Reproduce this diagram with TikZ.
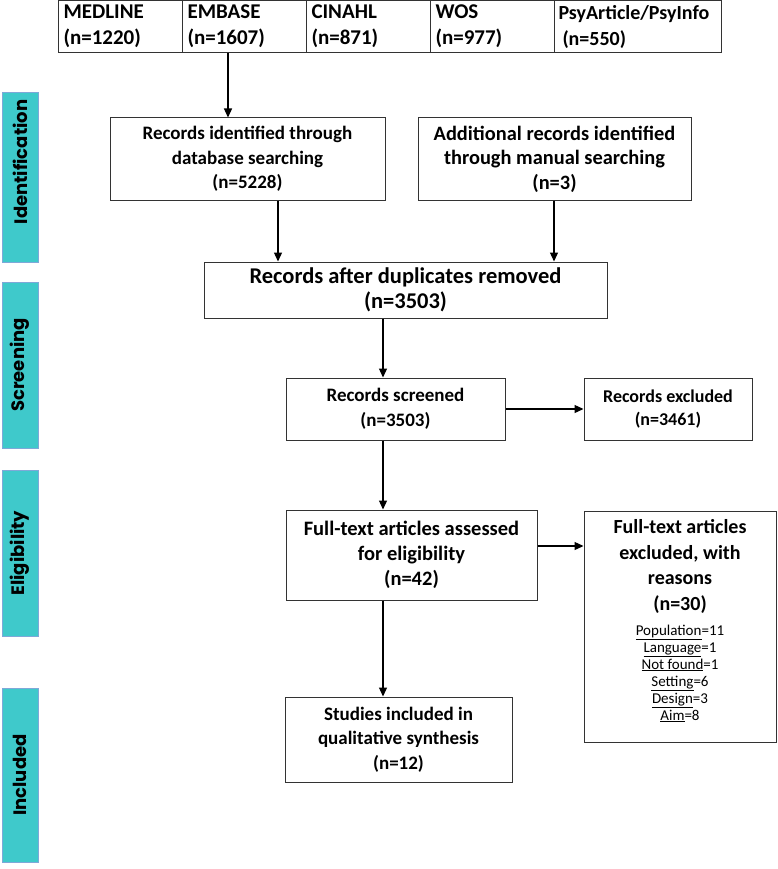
\documentclass[tikz,border=0pt]{standalone}
\usepackage{fontspec}
\setmainfont{Carlito}
\newfontfamily\barfont{Poppins}
\usetikzlibrary{arrows.meta,calc}
\definecolor{barfill}{HTML}{3FC9CB}
\definecolor{barline}{HTML}{7FA8D8}
\newcommand\fsz[2]{\fontsize{#1}{#2}\selectfont\bfseries}
\tikzset{
  box/.style={draw=black!80, line width=1pt, fill=white, align=center, inner sep=2pt,
    font=\fsz{19}{24.5}},
  plain/.style={align=center, inner sep=0pt},
  cell/.style={draw=black!80, line width=1pt, align=left, anchor=north west, inner xsep=4pt,
    font=\fsz{21}{26}, text width=114pt, minimum height=52pt},
  arr/.style={line width=1.3pt, -{Triangle[length=9pt,width=8pt]}},
  bar/.style={draw=barline, line width=0.8pt, fill=barfill, minimum width=36pt,
    font=\barfont\fontsize{18}{20}\selectfont\bfseries},
}
\begin{document}
\begin{tikzpicture}[x=1pt,y=-1pt]
\useasboundingbox[fill=white] (0,0) rectangle (778,869);
% side bars
\node[bar, minimum height=170pt] (p1) at (20,177) {\rotatebox{90}{\hspace*{30pt}Identification}};
\node[bar, minimum height=166pt] (p2) at (20,365) {\rotatebox{90}{Screening}};
\node[bar, minimum height=166pt] (p3) at (20,553) {\rotatebox{90}{Eligibility}};
\node[bar, minimum height=174pt] (p4) at (20,775) {\rotatebox{90}{Included}};
% database row
\node[cell, minimum width=124pt] (c1) at (58,0) {MEDLINE\\(n=1220)};
\node[cell, minimum width=124pt] (c2) at (182,0) {EMBASE\\(n=1607)};
\node[cell, minimum width=124pt] (c3) at (306,0) {CINAHL\\(n=871)};
\node[cell, minimum width=124pt] (c4) at (430,0) {WOS\\(n=977)};
\node[cell, minimum width=167pt, text width=159pt, font=\fsz{20}{26}] (c5) at (554,0) {PsyArticle/PsyInfo\\\hspace*{4pt}(n=550)};
% boxes
\node[box, minimum width=275pt, minimum height=82pt] (b1) at (247.5,159) {Records identified through\\database searching\\(n=5228)};
\node[box, minimum width=273pt, minimum height=82pt, font=\fsz{20.4}{24.5}] (b2) at (554.5,159) {Additional records identified\\through manual searching\\(n=3)};
\node[box, minimum width=403pt, minimum height=56pt, font=\fsz{22.5}{25}] (dup) at (405.5,290) {Records after duplicates removed\\(n=3503)};
\node[box, minimum width=219pt, minimum height=62pt] (scr) at (395.5,409) {Records screened\\(n=3503)};
\node[box, minimum width=168pt, minimum height=62pt, font=\fsz{18}{23}] (exc) at (668,409) {Records excluded\\(n=3461)};
\node[box, minimum width=251pt, minimum height=90pt, font=\fsz{20.5}{25}] (ft) at (411.5,555) {Full-text articles assessed\\for eligibility\\(n=42)};
\node[box, minimum width=192pt, minimum height=231pt] (fx) at (680,626.5) {};
\node[plain, anchor=north, font=\fsz{20}{25.5}] (fxa) at ([yshift=-9pt]fx.north) {Full-text articles\\excluded, with\\reasons\\(n=30)};
\node[plain, anchor=north, font=\fontsize{15}{17}\selectfont] (fxb) at ([yshift=-11pt]fxa.south) {\underline{Population}=11\\\underline{Language}=1\\\underline{Not found}=1\\\underline{Setting}=6\\\underline{Design}=3\\\underline{Aim}=8};
\node[box, minimum width=227pt, minimum height=85pt] (inc) at (398.5,739.5) {Studies included in\\qualitative synthesis\\(n=12)};
% connectors
\coordinate (xa) at (228,0);
\coordinate (xb) at (278,0);
\coordinate (xc) at (554,0);
\coordinate (xm) at (383,0);
\draw[arr] (c2.south -| xa) -- (b1.north -| xa);
\draw[arr] (b1.south -| xb) -- (dup.north -| xb);
\draw[arr] (b2.south -| xc) -- (dup.north -| xc);
\draw[arr] (dup.south -| xm) -- (scr.north -| xm);
\draw[arr] (scr.east) -- (exc.west |- scr.east);
\draw[arr] (scr.south -| xm) -- (ft.north -| xm);
\coordinate (ya) at (0,546);
\draw[arr] (ft.east |- ya) -- (fx.west |- ya);
\draw[arr] (ft.south -| xm) -- (inc.north -| xm);
\end{tikzpicture}
\end{document}
